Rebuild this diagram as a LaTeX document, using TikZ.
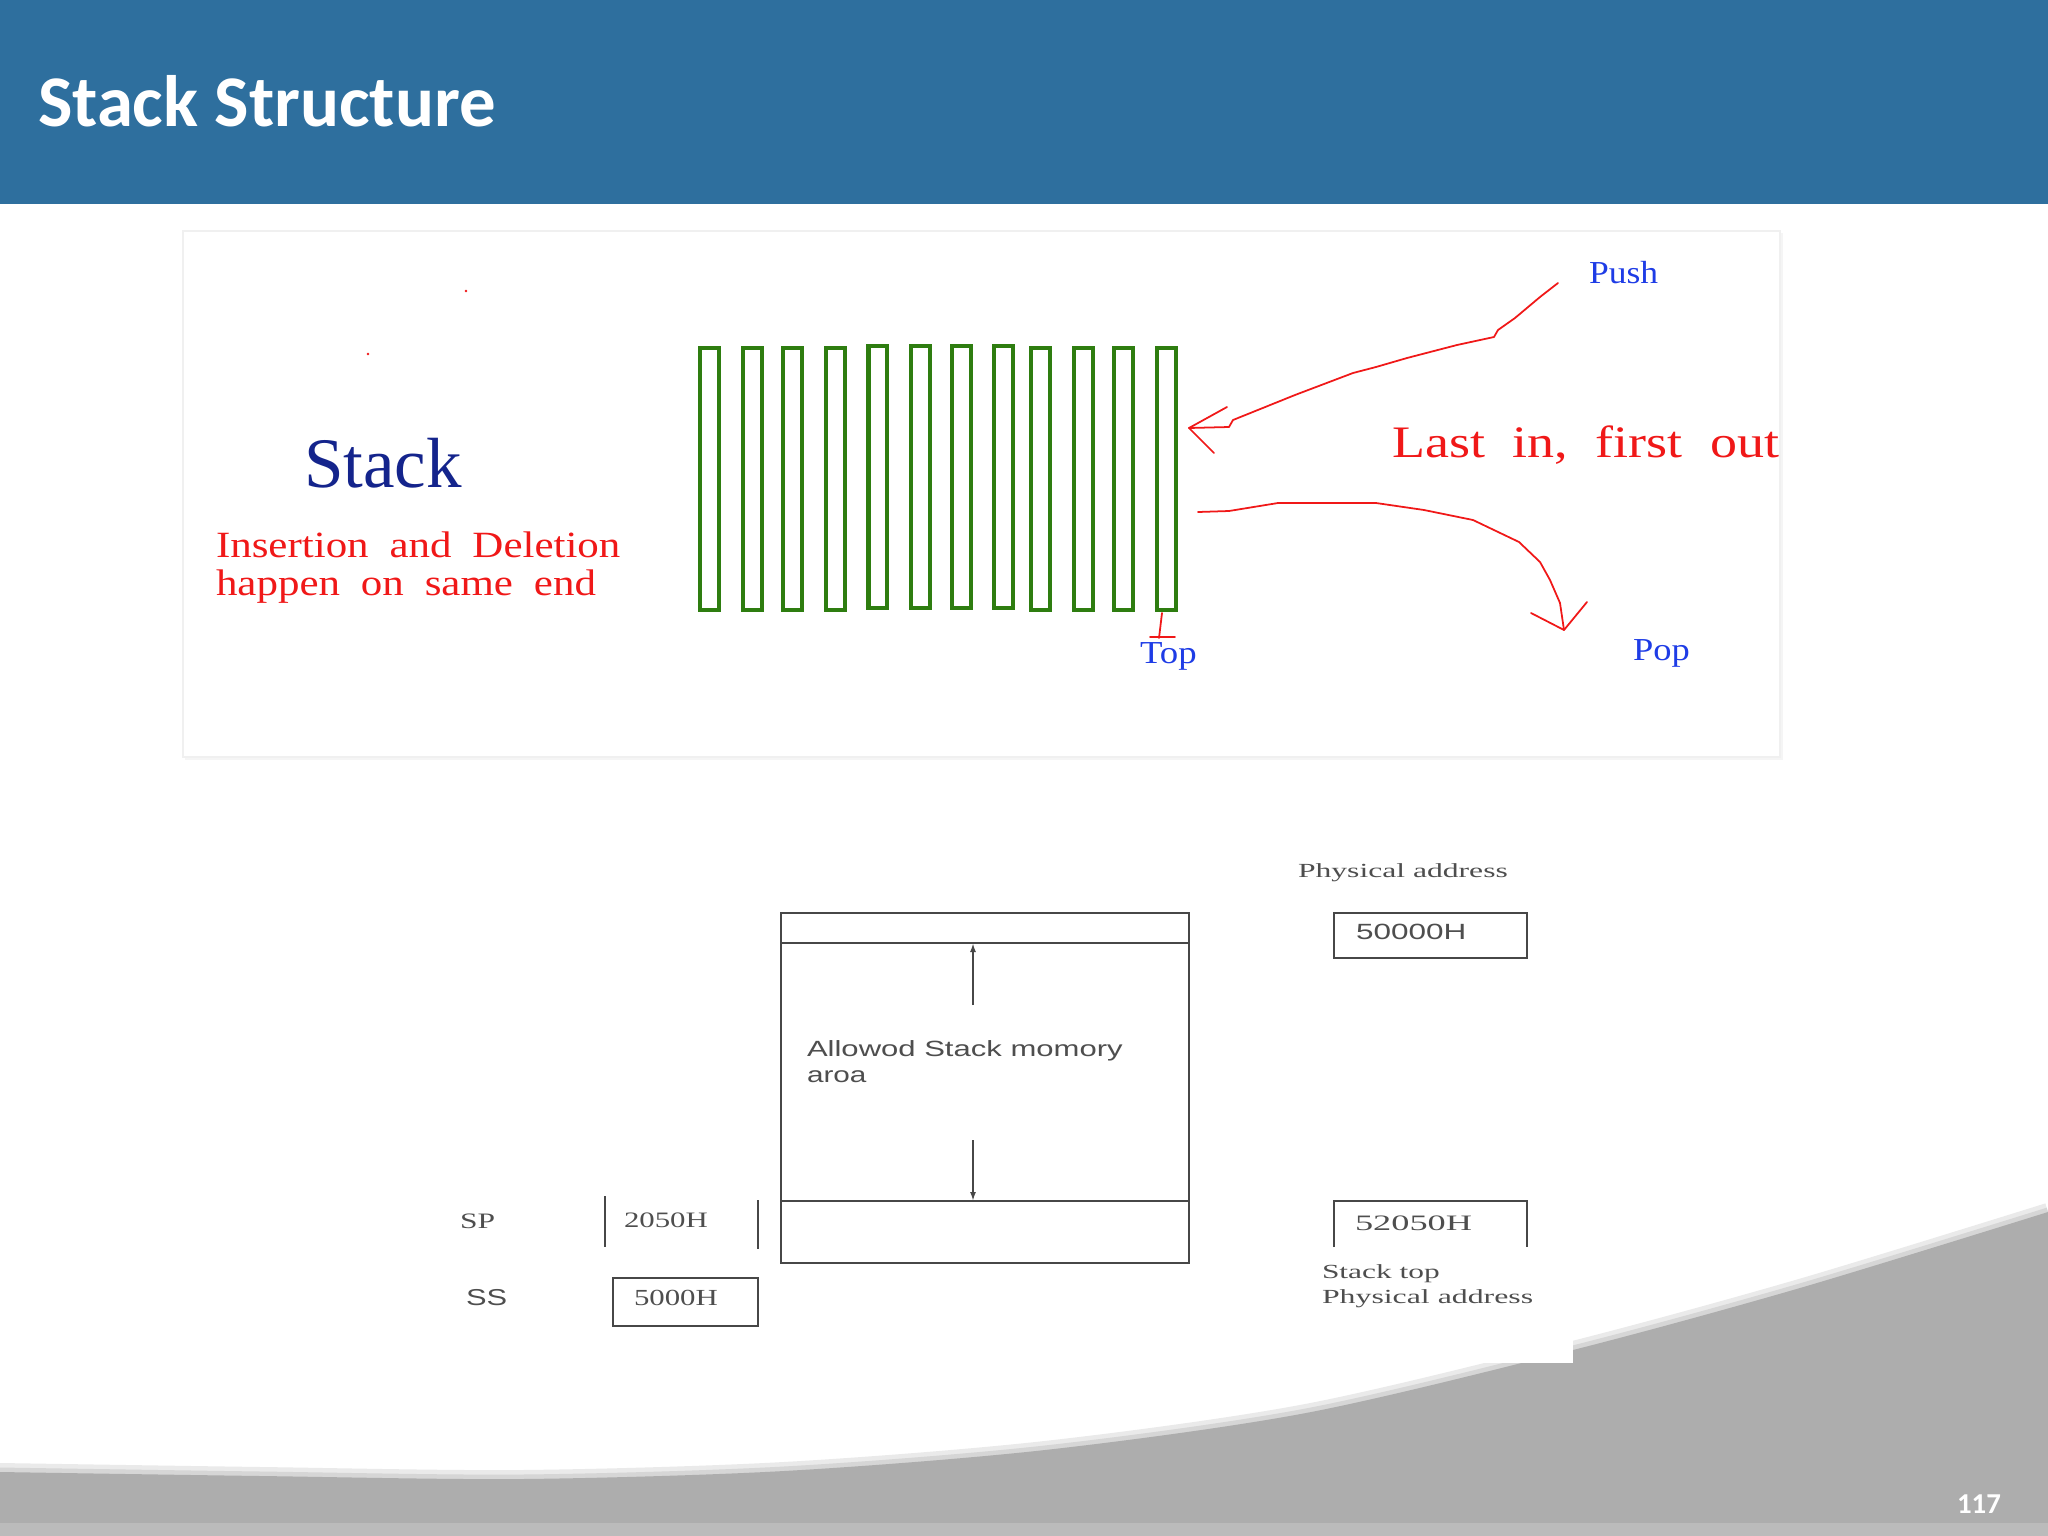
\documentclass[tikz,border=0pt]{standalone}
\usepackage{fontspec}
\setmainfont{Liberation Serif}
\newfontfamily\carlito{Carlito}
\newfontfamily\arialf{Liberation Sans}
\usetikzlibrary{arrows.meta}
\definecolor{hdr}{HTML}{2E6F9E}
\definecolor{stkgreen}{HTML}{2E7D10}
\definecolor{navy}{HTML}{14248C}
\definecolor{lblue}{HTML}{1E3CE6}
\definecolor{dgray}{HTML}{4E4E4E}
\definecolor{lgray}{HTML}{474747}
\definecolor{swoosh}{HTML}{ADADAD}
\definecolor{swooshb}{HTML}{BBBBBB}
\definecolor{shadowa}{HTML}{EAEAEA}
\definecolor{shadowb}{HTML}{D6D6D6}
\definecolor{redl}{HTML}{F01818}
\newcommand{\stxt}[3]{\scalebox{#1}[1]{\fontsize{#2}{#2}\selectfont #3}}
\tikzset{
  lbl/.style={anchor=base west, inner sep=0pt, outer sep=0pt},
  cell/.style={draw=stkgreen, line width=1.15pt, minimum width=0.186cm, minimum height=2.62cm, inner sep=0pt},
  redline/.style={draw=redl, line width=0.5pt, line join=round, line cap=round},
  boxline/.style={draw=lgray, line width=0.65pt},
  memarrow/.style={draw=lgray, line width=0.6pt, -{Latex[length=0.09cm,width=0.06cm]}}
}
\begin{document}
\begin{tikzpicture}[x=0.01cm,y=-0.01cm]
\useasboundingbox (0,0) rectangle (2048,1536);
\fill[white] (0,0) rectangle (2048,1536);
% bottom swoosh
\def\swooshpts{(0,1472) (261,1476) (522,1479) (784,1471) (1045,1450) (1306,1413) (1573,1350) (1800,1288) (2048,1212)}
\draw[shadowa, line width=0.18cm] plot[smooth] coordinates {\swooshpts};
\draw[shadowb, line width=0.09cm] plot[smooth] coordinates {\swooshpts};
\fill[swoosh] plot[smooth] coordinates {\swooshpts} -- (2048,1536) -- (0,1536) -- cycle;
\fill[swooshb] (0,1523) rectangle (2048,1536);
\node[lbl, text=white] (pagenum) at (1957,1513) {\carlito\bfseries\fontsize{8.2}{10}\selectfont 117};
% header
\fill[hdr] (0,0) rectangle (2048,204);
\node[lbl, text=white] (title) at (38,126) {\carlito\bfseries\fontsize{20.7}{24}\selectfont Stack Structure};
% top panel
\fill[black!4] (185,233) rectangle (1783,760);
\filldraw[fill=white, draw=black!6, line width=0.4pt] (183,231) rectangle (1780,757);
\fill[redl] (466,291) circle (1.4);
\fill[redl] (368,354) circle (1.4);
\node[lbl, text=navy] (stack) at (304,487) {\fontsize{20.2}{22}\selectfont Stack};
\node[lbl, text=redl] (ins1) at (216,557) {\stxt{1.16}{10.53}{Insertion\hspace{0.18cm}and\hspace{0.18cm}Deletion}};
\node[lbl, text=redl] (ins2) at (216,595) {\stxt{1.16}{10.53}{happen\hspace{0.18cm}on\hspace{0.18cm}same\hspace{0.18cm}end}};
\node[lbl, text=redl] (lifo) at (1392,457) {\stxt{1.2}{12.8}{Last\hspace{0.23cm}in,\hspace{0.23cm}first\hspace{0.23cm}out}};
\node[lbl, text=lblue] (push) at (1589,283) {\stxt{1.11}{9.1}{Push}};
\node[lbl, text=lblue] (pop) at (1633,660) {\stxt{1.14}{9.1}{Pop}};
\node[lbl, text=lblue] (top) at (1140,663) {\stxt{1.15}{9.1}{Top}};
% stack cells
\foreach \i/\x/\y in {1/709.3/479, 2/752.3/479, 3/792.3/479, 4/835.3/479, 5/877.8/476.7, 6/920.3/476.7, 7/961.3/476.7, 8/1003.3/476.7, 9/1040.3/479, 10/1083.3/479, 11/1123.3/479, 12/1166.3/479}
  \node[cell] (c\i) at (\x,\y) {};
% push arrow (hand drawn)
\coordinate (pushs) at (1558,283);
\coordinate (ptip) at (1189,428);
\draw[redline] (pushs) -- (1540,297) -- (1515,318) -- (1498,330) -- (1494,337) -- (1457,345) -- (1407,358) -- (1376,367) -- (1353,373) -- (1295,395) -- (1233,420) -- (1229,427) -- (ptip);
\draw[redline] (1227,407) -- (ptip) -- (1214,453);
% pop arrow (hand drawn)
\coordinate (pops) at (1198,512);
\coordinate (poptip) at (1564,630);
\draw[redline] (pops) -- (1229,511) -- (1278,503) -- (1376,503) -- (1424,510) -- (1473,520) -- (1519,542) -- (1540,562) -- (1550,580) -- (1560,603) -- (poptip);
\draw[redline] (1531,613) -- (poptip) -- (1587,602);
% top mark
\draw[redline] (1162,613) -- (1159,638);
\draw[redline] (1150,637) -- (1175,637);
% bottom figure background
\fill[white] (440,840) rectangle (1573,1363);
% memory box
\node[boxline, minimum width=4.08cm, minimum height=3.5cm, inner sep=0pt] (mem) at (985,1088) {};
\coordinate (memtop) at (781,943);
\coordinate (membot) at (781,1201);
\draw[boxline] (memtop) -- (mem.east |- memtop);
\draw[boxline] (membot) -- (mem.east |- membot);
\coordinate (uparr) at (973,1005);
\coordinate (dnarr) at (973,1140);
\draw[memarrow] (uparr) -- (uparr |- memtop);
\draw[memarrow] (dnarr) -- (dnarr |- membot);
\node[lbl, text=dgray] (allow1) at (807,1056) {\arialf\stxt{1.41}{6.26}{Allowod Stack momory}};
\node[lbl, text=dgray] (allow2) at (807,1082) {\arialf\stxt{1.35}{6.26}{aroa}};
% SP / SS
\node[lbl, text=dgray] (sp) at (460,1228) {\stxt{1.43}{6.26}{SP}};
\node[lbl, text=dgray] (spval) at (624,1227) {\stxt{1.40}{6.26}{2050H}};
\draw[boxline] (605,1196) -- (605,1247);
\draw[boxline] (758,1200) -- (758,1249);
\node[lbl, text=dgray] (ss) at (466,1305) {\arialf\stxt{1.34}{6.54}{SS}};
\node[boxline, minimum width=1.45cm, minimum height=0.48cm, inner sep=0pt] (ssbox) at (685.5,1302) {};
\node[lbl, text=dgray] (ssval) at (634,1305) {\stxt{1.34}{6.54}{5000H}};
% physical addresses
\node[lbl, text=dgray] (phys1) at (1298,877) {\stxt{1.58}{5.69}{Physical address}};
\node[boxline, minimum width=1.93cm, minimum height=0.45cm, inner sep=0pt] (pabox) at (1430.5,935.5) {};
\node[lbl, text=dgray] (paval) at (1356,939) {\arialf\stxt{1.43}{6.26}{50000H}};
\draw[boxline] (1334,1247) -- (1334,1201) -- (1527,1201) -- (1527,1247);
\node[lbl, text=dgray] (topval) at (1355,1230) {\stxt{1.65}{6.26}{52050H}};
\node[lbl, text=dgray] (stop1) at (1322,1278) {\stxt{1.57}{5.69}{Stack top}};
\node[lbl, text=dgray] (stop2) at (1322,1303) {\stxt{1.59}{5.69}{Physical address}};
\end{tikzpicture}
\end{document}
